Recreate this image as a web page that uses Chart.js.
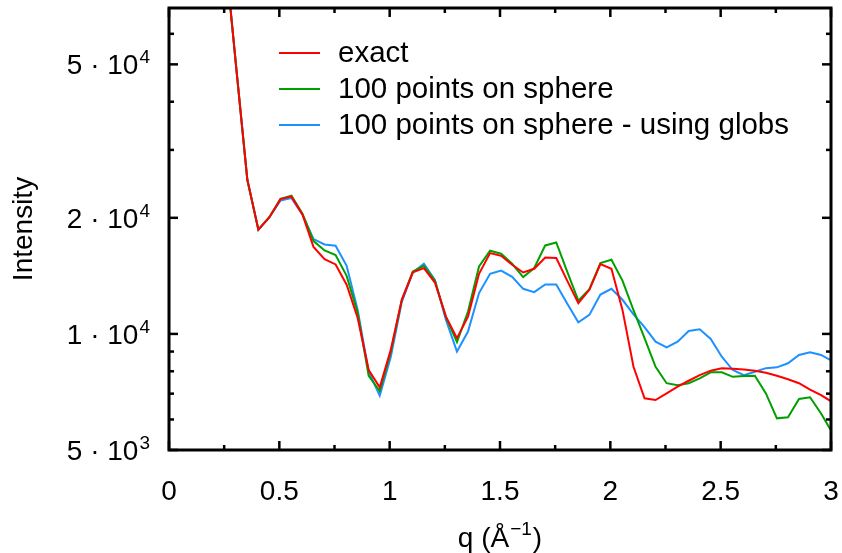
<!DOCTYPE html>
<html><head><meta charset="utf-8">
<script src="https://cdn.jsdelivr.net/npm/chart.js@4/dist/chart.umd.min.js"></script>
<style>html,body{margin:0;padding:0;background:#fff}#wrap{width:842px;height:553px;position:relative}</style>
</head><body><div id="wrap"><canvas id="c"></canvas></div>
<script>
const q = [0.255,0.305,0.355,0.405,0.455,0.505,0.555,0.605,0.655,0.705,
0.755,0.805,0.855,0.905,0.955,1.005,1.055,1.105,1.155,1.205,
1.255,1.305,1.355,1.405,1.455,1.505,1.555,1.605,1.655,1.705,
1.755,1.805,1.855,1.905,1.955,2.005,2.055,2.105,2.155,2.205,
2.255,2.305,2.355,2.405,2.455,2.505,2.555,2.605,2.655,2.705,
2.755,2.805,2.855,2.905,2.955,3.005];
const exact = [96000,48800,25100,18630,20070,22360,22700,20380,16800,15630,
15140,13410,11000,8060,7270,9090,12260,14450,14810,13590,
11090,9750,11090,14320,16200,15940,15110,14430,14750,15780,
15730,13730,12020,13010,15170,14750,11540,8220,6810,6740,
7010,7300,7560,7820,8030,8150,8120,8080,8030,7930,
7790,7630,7450,7170,6940,6660];
const sphere100 = [96000,48800,25100,18630,20070,22400,22830,20500,17410,16460,
16010,14140,11340,7780,7110,8980,12260,14510,15020,13730,
11050,9520,11430,14960,16430,16140,15200,14040,14820,16960,
17260,14490,12200,13060,15260,15570,13750,11520,9750,8220,
7450,7360,7450,7670,7950,7950,7740,7780,7790,7010,
6040,6080,6780,6850,6220,5550];
const globs100 = [96000,48800,25100,18630,20070,22160,22500,20380,17620,17060,
16930,15020,11540,7970,6920,8710,12110,14430,15200,13810,
10870,9000,10140,12760,14320,14600,14060,13090,12830,13430,
13430,11970,10720,11200,12650,13090,12260,11240,10410,9550,
9230,9550,10180,10280,9700,8730,8060,7820,7980,8150,
8190,8390,8820,8960,8820,8510];
const seriesNames = ['exact','100 points on sphere','100 points on sphere - using globs'];
const xTicks = [0,0.5,1,1.5,2,2.5,3];
const xMinor = [0.25,0.75,1.25,1.75,2.25,2.75];
const yTicks = [5000,10000,20000,50000];
const yTickMant = ['5','1','2','5'];
const yTickExp = ['3','4','4','4'];
const yMinor = [6000,7000,8000,9000,30000,40000,60000];
const xTitle = ['q (Å', '\u22121', ')'];
const yTitle = 'Intensity';

const FONT = '"Liberation Sans", Arial, Helvetica, sans-serif';
const FS = 28, SFS = 19, LFS = 29.5;

const framePlugin = {
  id: 'frame',
  afterDatasetsDraw(chart) {
    const ctx = chart.ctx, a = chart.chartArea, x = chart.scales.x, y = chart.scales.y;
    ctx.save();
    ctx.strokeStyle = '#000';
    ctx.lineCap = 'butt';
    const line = (x1, y1, x2, y2) => { ctx.beginPath(); ctx.moveTo(x1, y1); ctx.lineTo(x2, y2); ctx.stroke(); };
    ctx.lineWidth = 2.5;
    const tx = (v, len) => { const p = x.getPixelForValue(v); line(p, a.bottom, p, a.bottom - len); line(p, a.top, p, a.top + len); };
    const ty = (v, len) => { const p = y.getPixelForValue(v); line(a.left, p, a.left + len, p); line(a.right, p, a.right - len, p); };
    xTicks.forEach(v => tx(v, 9));
    xMinor.forEach(v => tx(v, 5));
    yTicks.forEach(v => ty(v, 9));
    yMinor.forEach(v => ty(v, 5));
    ctx.lineWidth = 3;
    ctx.strokeRect(a.left, a.top, a.right - a.left, a.bottom - a.top);

    ctx.fillStyle = '#000';
    ctx.textBaseline = 'alphabetic';
    ctx.font = FS + 'px ' + FONT;
    ctx.textAlign = 'center';
    xTicks.forEach(v => ctx.fillText(String(v), x.getPixelForValue(v), 500));
    yTicks.forEach((v, i) => {
      const p = y.getPixelForValue(v);
      ctx.font = SFS + 'px ' + FONT;
      const ws = ctx.measureText(yTickExp[i]).width;
      ctx.textAlign = 'left';
      ctx.fillText(yTickExp[i], 150 - ws, p - 1);
      ctx.font = FS + 'px ' + FONT;
      ctx.textAlign = 'right';
      ctx.fillText(yTickMant[i] + ' \u00b7 10', 150 - ws - 1, p + 10);
    });
    ctx.font = FS + 'px ' + FONT;
    const w0 = ctx.measureText(xTitle[0]).width, w2 = ctx.measureText(xTitle[2]).width;
    ctx.font = SFS + 'px ' + FONT;
    const w1 = ctx.measureText(xTitle[1]).width;
    const cx = (a.left + a.right) / 2;
    let sx = cx - (w0 + w1 + w2 + 2) / 2;
    ctx.textAlign = 'left';
    ctx.font = FS + 'px ' + FONT;
    ctx.fillText(xTitle[0], sx, 547);
    ctx.font = SFS + 'px ' + FONT;
    ctx.fillText(xTitle[1], sx + w0 + 1, 535);
    ctx.font = FS + 'px ' + FONT;
    ctx.fillText(xTitle[2], sx + w0 + w1 + 2, 547);
    ctx.save();
    ctx.translate(32, (a.top + a.bottom) / 2);
    ctx.rotate(-Math.PI / 2);
    ctx.textAlign = 'center';
    ctx.fillText(yTitle, 0, 0);
    ctx.restore();
    chart.data.datasets.forEach((ds, i) => {
      const ly = 53 + 36 * i;
      ctx.strokeStyle = ds.borderColor;
      ctx.lineWidth = 2;
      line(279, ly, 320, ly);
      ctx.fillStyle = '#000';
      ctx.textAlign = 'left';
      ctx.textBaseline = 'middle';
      ctx.font = LFS + 'px ' + FONT;
      ctx.fillText(ds.label, 338, ly + 1);
    });
    ctx.restore();
  }
};

const mk = (vals) => q.map((v, i) => ({ x: v, y: vals[i] }));
new Chart(document.getElementById('c'), {
  type: 'line',
  data: {
    datasets: [
      { label: seriesNames[0], data: mk(exact), borderColor: '#ff0000', borderWidth: 2, pointRadius: 0, tension: 0, clip: 0 },
      { label: seriesNames[1], data: mk(sphere100), borderColor: '#00a000', borderWidth: 2, pointRadius: 0, tension: 0, clip: 0 },
      { label: seriesNames[2], data: mk(globs100), borderColor: '#1e90ff', borderWidth: 2, pointRadius: 0, tension: 0, clip: 0 }
    ]
  },
  options: {
    responsive: true, maintainAspectRatio: false, animation: false, devicePixelRatio: 1,
    layout: { padding: { left: 169, right: 11, top: 8, bottom: 103 } },
    plugins: { legend: { display: false }, tooltip: { enabled: false } },
    scales: {
      x: { type: 'linear', min: 0, max: 3, display: false },
      y: { type: 'logarithmic', min: 5000, max: 70000, display: false }
    }
  },
  plugins: [framePlugin]
});
</script></body></html>
